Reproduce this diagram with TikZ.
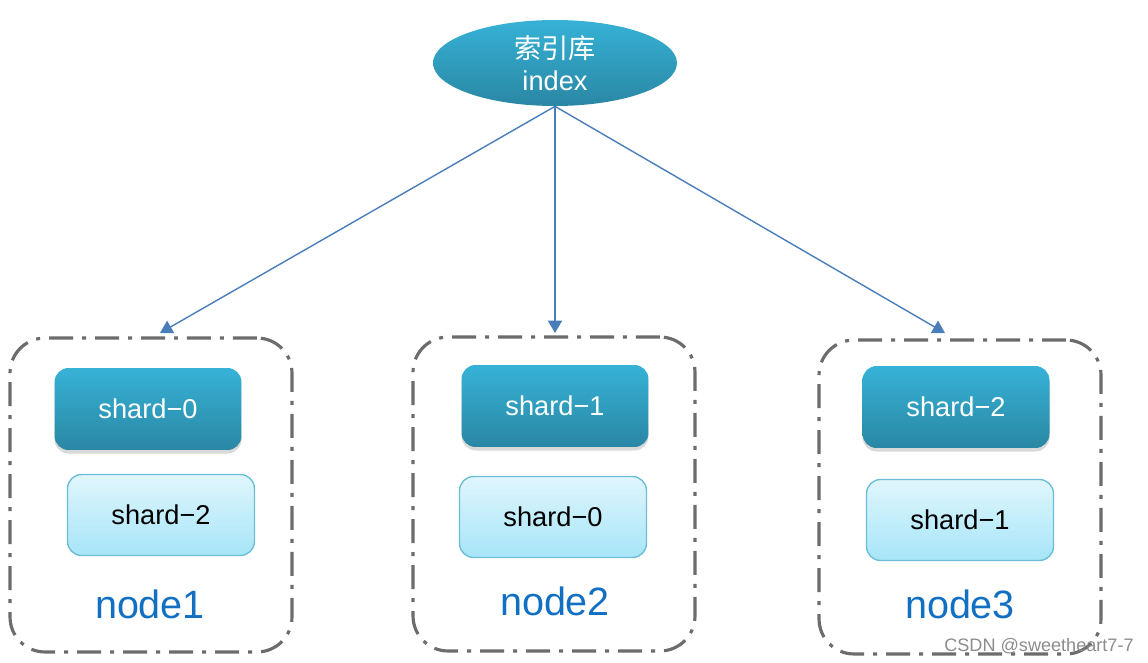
\documentclass[tikz,border=0pt]{standalone}
\usepackage{fontspec}
\setmainfont{Liberation Sans}
\newfontfamily\cjk{Noto Sans CJK SC}
\usepackage{xcolor}
\usetikzlibrary{shapes,arrows.meta,positioning,calc,shadows}

\definecolor{topblue}{HTML}{36B2D6}
\definecolor{botblue}{HTML}{2A87A4}
\definecolor{toplight}{HTML}{E0F6FD}
\definecolor{botlight}{HTML}{A6E5F8}
\definecolor{edgelight}{HTML}{6CBED6}
\definecolor{linkblue}{HTML}{4A7EBB}
\definecolor{hostblue}{HTML}{1170C2}

\begin{document}
\begin{tikzpicture}[x=0.02cm,y=-0.02cm,
    primary/.style={rounded corners=8pt, top color=topblue, bottom color=botblue,
        minimum width=3.74cm, minimum height=1.64cm, text=white, font=\fontsize{15.5}{18}\selectfont,
        drop shadow={shadow xshift=0pt, shadow yshift=-2pt, opacity=0.3}},
    replica/.style={rounded corners=8pt, draw=edgelight, line width=0.8pt, top color=toplight,
        bottom color=botlight, minimum width=3.74cm, minimum height=1.62cm, text=black,
        font=\fontsize{15.5}{18}\selectfont},
    host/.style={draw=gray!85!black, line width=1.8pt, rounded corners=0.7cm,
        dash pattern=on 0.48cm off 0.18cm on 0.08cm off 0.18cm,
        minimum width=5.64cm, minimum height=6.28cm},
    hostlabel/.style={text=hostblue, font=\fontsize{22.5}{26}\selectfont},
    link/.style={draw=linkblue, line width=0.8pt, -{Triangle[length=7pt,width=8pt]}}
]
    \useasboundingbox (0,0) rectangle (1148,662);

    % index
    \node[ellipse, top color=topblue, bottom color=botblue, minimum width=4.88cm,
        minimum height=1.72cm, inner sep=0pt, text=white, align=center,
        font=\fontsize{15.5}{19}\selectfont] (index) at (555,63)
        {{\cjk 索引库}\\[-1pt]index};

    % hosts
    \node[host] (box1) at (151,495) {};
    \node[host] (box2) at (554,494) {};
    \node[host] (box3) at (960,497) {};

    % shards
    \node[primary] (p0) at (148,409) {shard−0};
    \node[replica] (r2) at (161,515) {shard−2};
    \node[primary] (p1) at (555,406) {shard−1};
    \node[replica] (r0) at (553,517) {shard−0};
    \node[primary] (p2) at (956,407) {shard−2};
    \node[replica] (r1) at (960,520) {shard−1};

    \node[hostlabel] (n1) at (150,604) {node1};
    \node[hostlabel] (n2) at (555,601) {node2};
    \node[hostlabel] (n3) at (960,604) {node3};

    % links
    \coordinate (t1) at (160,333);
    \coordinate (t2) at (555,333);
    \coordinate (t3) at (945,333);
    \draw[link] (index.south) -- (t1);
    \draw[link] (index.south) -- (t2);
    \draw[link] (index.south) -- (t3);

    \node[text=gray!90, font=\fontsize{10.3}{12}\selectfont, anchor=east, inner sep=0pt] (mark) at (1134,646) {CSDN @sweetheart7-7};
\end{tikzpicture}
\end{document}
